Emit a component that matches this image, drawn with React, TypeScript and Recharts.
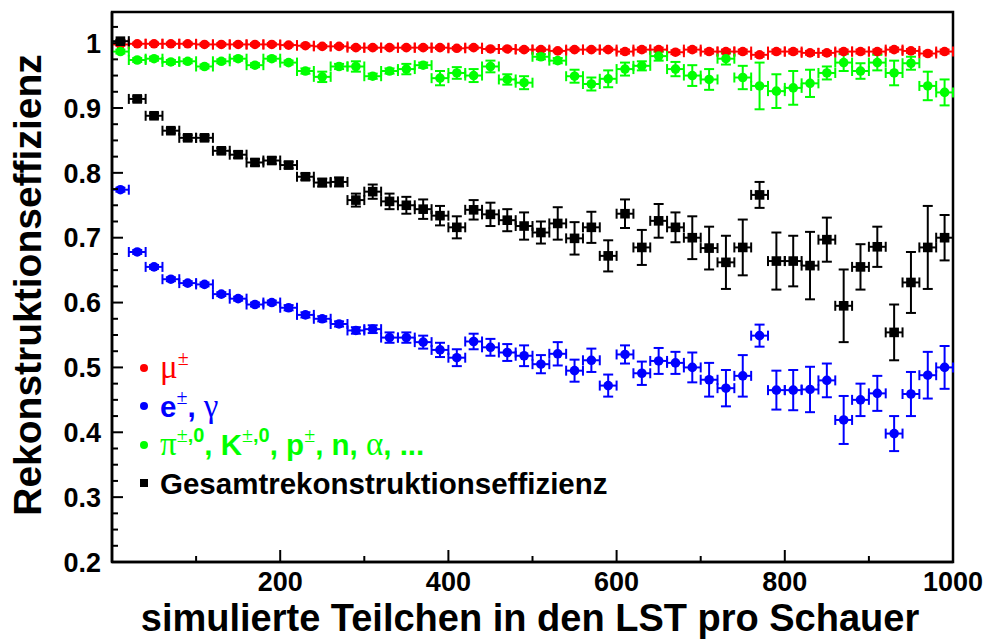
import React from "react";
import { ScatterChart, Scatter, XAxis, YAxis, ErrorBar, ReferenceArea, Legend } from "recharts";

// bin centres (simulated particles per shower), bins are 20 wide
const binCenters = [
  10, 30, 50, 70, 90, 110, 130, 150, 170, 190, 210, 230, 250, 270, 290, 310, 330, 350, 370, 390,
  410, 430, 450, 470, 490, 510, 530, 550, 570, 590, 610, 630, 650, 670, 690, 710, 730, 750, 770, 790,
  810, 830, 850, 870, 890, 910, 930, 950, 970, 990,
];
const binHalfWidth = 10;

// mu+-
const muEff = [
  0.998, 0.999, 0.999, 0.999, 0.999, 0.998, 0.998, 0.998, 0.998, 0.998, 0.997, 0.996, 0.995, 0.995, 0.993, 0.993, 0.993, 0.993, 0.993, 0.993,
  0.992, 0.993, 0.991, 0.991, 0.99, 0.99, 0.988, 0.99, 0.99, 0.99, 0.987, 0.99, 0.99, 0.986, 0.99, 0.987, 0.987, 0.987, 0.982, 0.987,
  0.987, 0.985, 0.985, 0.987, 0.987, 0.987, 0.99, 0.988, 0.984, 0.987,
];
const muErr = [
  0.002, 0.002, 0.002, 0.002, 0.002, 0.002, 0.002, 0.002, 0.002, 0.002, 0.002, 0.002, 0.002, 0.002, 0.002, 0.002, 0.002, 0.002, 0.002, 0.002,
  0.002, 0.002, 0.002, 0.002, 0.002, 0.002, 0.002, 0.002, 0.002, 0.002, 0.003, 0.003, 0.003, 0.003, 0.003, 0.003, 0.003, 0.003, 0.003, 0.003,
  0.003, 0.003, 0.003, 0.003, 0.003, 0.003, 0.003, 0.003, 0.003, 0.003,
];

// e+-, gamma
const emEff = [
  0.774, 0.678, 0.655, 0.636, 0.63, 0.628, 0.613, 0.606, 0.597, 0.6, 0.592, 0.581, 0.575, 0.567, 0.557, 0.559, 0.546, 0.546, 0.539, 0.527,
  0.515, 0.54, 0.531, 0.523, 0.518, 0.505, 0.521, 0.495, 0.511, 0.472, 0.52, 0.491, 0.51, 0.507, 0.5, 0.481, 0.468, 0.487, 0.549, 0.465,
  0.465, 0.466, 0.48, 0.419, 0.45, 0.46, 0.398, 0.459, 0.488, 0.5,
];
const emErr = [
  0.003, 0.003, 0.003, 0.003, 0.003, 0.003, 0.003, 0.003, 0.003, 0.003, 0.004, 0.004, 0.004, 0.004, 0.005, 0.006, 0.008, 0.008, 0.01, 0.011,
  0.013, 0.012, 0.013, 0.013, 0.016, 0.014, 0.018, 0.017, 0.018, 0.017, 0.014, 0.018, 0.02, 0.017, 0.023, 0.026, 0.028, 0.032, 0.017, 0.03,
  0.031, 0.035, 0.026, 0.037, 0.025, 0.027, 0.027, 0.034, 0.036, 0.033,
];

// hadrons
const hadEff = [
  0.987, 0.974, 0.976, 0.971, 0.972, 0.964, 0.972, 0.976, 0.966, 0.976, 0.97, 0.957, 0.948, 0.964, 0.964, 0.949, 0.957, 0.96, 0.966, 0.946,
  0.954, 0.95, 0.964, 0.944, 0.939, 0.979, 0.973, 0.949, 0.937, 0.945, 0.96, 0.965, 0.98, 0.96, 0.95, 0.944, 0.976, 0.947, 0.934, 0.926,
  0.931, 0.938, 0.954, 0.97, 0.957, 0.97, 0.954, 0.969, 0.934, 0.924,
];
const hadErr = [
  0.003, 0.003, 0.003, 0.003, 0.003, 0.003, 0.003, 0.003, 0.003, 0.003, 0.003, 0.004, 0.008, 0.004, 0.008, 0.004, 0.004, 0.008, 0.004, 0.011,
  0.009, 0.01, 0.009, 0.008, 0.01, 0.004, 0.004, 0.01, 0.01, 0.013, 0.01, 0.007, 0.007, 0.011, 0.016, 0.016, 0.009, 0.018, 0.036, 0.026,
  0.026, 0.021, 0.01, 0.013, 0.012, 0.012, 0.019, 0.01, 0.022, 0.02,
];

// total reconstruction efficiency
const totEff = [
  1.003, 0.914, 0.888, 0.865, 0.854, 0.854, 0.834, 0.828, 0.816, 0.819, 0.812, 0.794, 0.785, 0.786, 0.758, 0.771, 0.756, 0.75, 0.744, 0.734,
  0.716, 0.743, 0.736, 0.727, 0.718, 0.708, 0.722, 0.699, 0.716, 0.672, 0.737, 0.685, 0.726, 0.716, 0.7, 0.684, 0.662, 0.685, 0.766, 0.664,
  0.664, 0.657, 0.697, 0.595, 0.655, 0.686, 0.554, 0.631, 0.685, 0.7,
];
const totErr = [
  0.002, 0.004, 0.004, 0.004, 0.004, 0.004, 0.004, 0.005, 0.005, 0.005, 0.005, 0.005, 0.006, 0.007, 0.01, 0.011, 0.012, 0.013, 0.015, 0.015,
  0.017, 0.015, 0.018, 0.017, 0.021, 0.017, 0.025, 0.025, 0.024, 0.024, 0.022, 0.027, 0.026, 0.023, 0.033, 0.033, 0.041, 0.043, 0.02, 0.044,
  0.039, 0.052, 0.034, 0.056, 0.035, 0.031, 0.043, 0.047, 0.064, 0.035,
];

const xTicks = [0, 100, 200, 300, 400, 500, 600, 700, 800, 900, 1000];
const yTicks = [
  0.2, 0.225, 0.25, 0.275, 0.3, 0.325, 0.35, 0.375, 0.4, 0.425, 0.45, 0.475, 0.5, 0.525, 0.55, 0.575, 0.6,
  0.625, 0.65, 0.675, 0.7, 0.725, 0.75, 0.775, 0.8, 0.825, 0.85, 0.875, 0.9, 0.925, 0.95, 0.975, 1.0, 1.025,
];

const SANS = '"Liberation Sans", Arial, Helvetica, sans-serif';
const SERIF = '"Liberation Serif", "Times New Roman", serif';

const RED = "#ff0000";
const BLUE = "#0000ff";
const GREEN = "#00ff00";
const BLACK = "#000000";

const toPoints = (vals: number[], errs: number[]) =>
  binCenters.map((x, i) => ({ x, y: vals[i], ex: binHalfWidth, ey: errs[i] }));

const muPoints = toPoints(muEff, muErr);
const emPoints = toPoints(emEff, emErr);
const hadPoints = toPoints(hadEff, hadErr);
const totPoints = toPoints(totEff, totErr);

const tickText = { fontFamily: SANS, fontWeight: 700, fontSize: 27, fill: "#000" } as const;

function XTick(props: any) {
  const { x, y, payload } = props;
  const v = payload.value as number;
  const major = v % 200 === 0;
  return (
    <g>
      <line x1={x} y1={y} x2={x} y2={y - (major ? 12 : 6)} stroke="#000" strokeWidth={2} />
      {major && v > 0 && (
        <text x={x} y={y + 29} textAnchor="middle" style={tickText}>
          {v}
        </text>
      )}
    </g>
  );
}

function YTick(props: any) {
  const { x, y, payload } = props;
  const v = payload.value as number;
  const major = Math.abs(v * 10 - Math.round(v * 10)) < 1e-6;
  return (
    <g>
      <line x1={x} y1={y} x2={x + (major ? 11 : 6)} y2={y} stroke="#000" strokeWidth={2} />
      {major && (
        <text x={x - 11} y={y} dy="0.36em" textAnchor="end" style={tickText}>
          {Math.abs(v - 1) < 1e-6 ? "1" : v.toFixed(1)}
        </text>
      )}
    </g>
  );
}

const titleText = { fontFamily: SANS, fontWeight: 700, fontSize: 38, fill: "#000" } as const;

function XTitle() {
  return (
    <text x={530} y={631} textAnchor="middle" style={titleText}>
      simulierte Teilchen in den LST pro Schauer
    </text>
  );
}

function YTitle() {
  return (
    <text x={41} y={285} textAnchor="middle" transform="rotate(-90, 41, 285)" style={{ ...titleText, fontSize: 39 }}>
      Rekonstruktionseffizienz
    </text>
  );
}

const dot = (color: string) => (p: any) => <circle cx={p.cx} cy={p.cy} r={4.8} fill={color} />;
const square = (color: string) => (p: any) => (
  <rect x={p.cx - 4.8} y={p.cy - 4.8} width={9.6} height={9.6} fill={color} />
);

const greek = { fontFamily: SERIF, fontWeight: 400, fontSize: 33 } as const;
const supStyle = { fontSize: 20, position: "relative", top: -13 } as const;
const pm = <span style={{ fontFamily: SERIF, fontWeight: 400 }}>±</span>;

function LegendRow({ color, marker, children }: { color: string; marker: "dot" | "square"; children: React.ReactNode }) {
  return (
    <div style={{ display: "flex", alignItems: "center", height: 38.5, whiteSpace: "nowrap" }}>
      <div
        style={{
          width: 8,
          height: 8,
          background: color,
          borderRadius: marker === "dot" ? "50%" : 0,
          flex: "none",
        }}
      />
      <span
        style={{
          marginLeft: 12,
          fontFamily: SANS,
          fontWeight: 700,
          fontSize: 29.5,
          lineHeight: 1,
          color,
        }}
      >
        {children}
      </span>
    </div>
  );
}

function LegendBox() {
  return (
    <div>
      <LegendRow color={RED} marker="dot">
        <span style={greek}>μ</span>
        <span style={supStyle}>{pm}</span>
      </LegendRow>
      <LegendRow color={BLUE} marker="dot">
        e<span style={supStyle}>{pm}</span>, <span style={greek}>γ</span>
      </LegendRow>
      <LegendRow color={GREEN} marker="dot">
        <span style={greek}>π</span>
        <span style={supStyle}>{pm},0</span>, K<span style={supStyle}>{pm},0</span>, p
        <span style={supStyle}>{pm}</span>, n, <span style={greek}>α</span>, ...
      </LegendRow>
      <LegendRow color={BLACK} marker="square">
        Gesamtrekonstruktionseffizienz
      </LegendRow>
    </div>
  );
}

export default function App() {
  return (
    <div style={{ position: "absolute", left: 0, top: 0, width: 985, height: 639, background: "#fff" }}>
      <ScatterChart width={985} height={639} margin={{ top: 12, right: 32, bottom: 0, left: 0 }}>
        <XAxis
          type="number"
          dataKey="x"
          domain={[0, 1000]}
          ticks={xTicks}
          interval={0}
          allowDataOverflow
          height={77}
          tickSize={0}
          tickMargin={0}
          tickLine={false}
          tick={XTick}
          axisLine={{ stroke: "#000", strokeWidth: 2.5 }}
          label={<XTitle />}
        />
        <YAxis
          type="number"
          dataKey="y"
          domain={[0.2, 1.048]}
          ticks={yTicks}
          interval={0}
          allowDataOverflow
          width={112}
          tickSize={0}
          tickMargin={0}
          tickLine={false}
          tick={YTick}
          axisLine={{ stroke: "#000", strokeWidth: 2.5 }}
          label={<YTitle />}
        />
        <ReferenceArea
          x1={0}
          x2={1000}
          y1={0.2}
          y2={1.048}
          fill="none"
          stroke="#000"
          strokeWidth={2.5}
          ifOverflow="visible"
        />
        <Scatter data={muPoints} fill={RED} shape={dot(RED)} isAnimationActive={false}>
          <ErrorBar dataKey="ex" direction="x" width={5} stroke={RED} strokeWidth={2} isAnimationActive={false} />
          <ErrorBar dataKey="ey" direction="y" width={5} stroke={RED} strokeWidth={2} isAnimationActive={false} />
        </Scatter>
        <Scatter data={hadPoints} fill={GREEN} shape={dot(GREEN)} isAnimationActive={false}>
          <ErrorBar dataKey="ex" direction="x" width={5} stroke={GREEN} strokeWidth={2} isAnimationActive={false} />
          <ErrorBar dataKey="ey" direction="y" width={5} stroke={GREEN} strokeWidth={2} isAnimationActive={false} />
        </Scatter>
        <Scatter data={emPoints} fill={BLUE} shape={dot(BLUE)} isAnimationActive={false}>
          <ErrorBar dataKey="ex" direction="x" width={5} stroke={BLUE} strokeWidth={2} isAnimationActive={false} />
          <ErrorBar dataKey="ey" direction="y" width={5} stroke={BLUE} strokeWidth={2} isAnimationActive={false} />
        </Scatter>
        <Scatter data={totPoints} fill={BLACK} shape={square(BLACK)} isAnimationActive={false}>
          <ErrorBar dataKey="ex" direction="x" width={5} stroke={BLACK} strokeWidth={2} isAnimationActive={false} />
          <ErrorBar dataKey="ey" direction="y" width={5} stroke={BLACK} strokeWidth={2} isAnimationActive={false} />
        </Scatter>
        <Legend
          layout="horizontal"
          verticalAlign="middle"
          align="center"
          content={() => <LegendBox />}
          wrapperStyle={{ left: 140, top: 348.5, width: "auto" }}
        />
      </ScatterChart>
    </div>
  );
}
